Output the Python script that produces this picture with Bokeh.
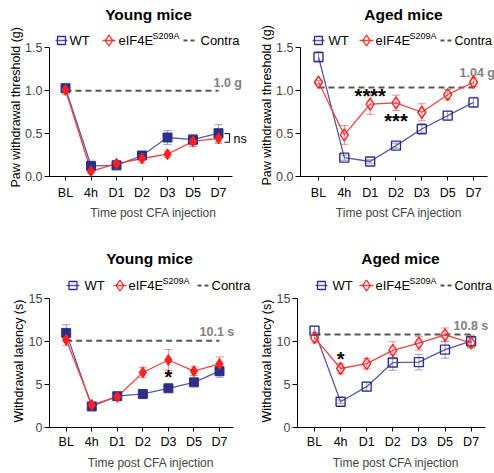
from bokeh.plotting import figure
from bokeh.models import (Range1d, FixedTicker, PrintfTickFormatter, Whisker, TeeHead,
                          ColumnDataSource, Title)
from bokeh.layouts import column, row
from bokeh.embed import file_html
from bokeh.resources import INLINE
from bokeh.core.properties import value

# ---------------- data ----------------
timepoints = ["BL", "4h", "D1", "D2", "D3", "D5", "D7"]
group_labels = ["WT", "eIF4E", "S209A", "Contra"]

young_mech_wt = [1.03, 0.125, 0.13, 0.245, 0.455, 0.43, 0.505]
young_mech_wt_err = [0.05, 0.03, 0.03, 0.04, 0.08, 0.06, 0.10]
young_mech_ki = [1.01, 0.06, 0.15, 0.21, 0.26, 0.41, 0.445]
young_mech_ki_err = [0.05, 0.02, 0.03, 0.05, 0.04, 0.06, 0.06]
young_mech_contra = 1.0

aged_mech_wt = [1.395, 0.22, 0.175, 0.36, 0.555, 0.71, 0.865]
aged_mech_wt_err = [0.06, 0.03, 0.02, 0.03, 0.06, 0.05, 0.06]
aged_mech_ki = [1.10, 0.485, 0.845, 0.86, 0.75, 0.955, 1.10]
aged_mech_ki_err = [0.02, 0.11, 0.12, 0.09, 0.10, 0.06, 0.05]
aged_mech_contra = 1.04

young_heat_wt = [11.0, 2.45, 3.64, 3.9, 4.56, 5.25, 6.55]
young_heat_wt_err = [0.95, 0.3, 0.3, 0.3, 0.4, 0.3, 0.7]
young_heat_ki = [10.2, 2.64, 3.56, 6.4, 7.85, 6.55, 7.4]
young_heat_ki_err = [0.65, 0.2, 0.3, 0.6, 1.2, 0.5, 0.8]
young_heat_contra = 10.1

aged_heat_wt = [11.26, 3.0, 4.75, 7.55, 7.6, 9.05, 10.03]
aged_heat_wt_err = [0.5, 0.2, 0.5, 0.9, 0.9, 1.0, 0.7]
aged_heat_ki = [10.46, 6.86, 7.43, 8.97, 9.8, 10.77, 9.85]
aged_heat_ki_err = [0.6, 0.6, 0.6, 1.0, 0.8, 0.8, 0.6]
aged_heat_contra = 10.8

# significance marks: (timepoint, stars, height)
aged_mech_sig = [("D1", "****", 0.965), ("D2", "***", 0.673)]
young_heat_sig = [("D3", "*", 6.1)]
aged_heat_sig = [("4h", "*", 8.2)]

# ---------------- style ----------------
FONT = "Liberation Sans"
WT_C = "#2e3088"
WT_L = "#5659a8"
KI_C = "#ff2020"
KI_L = "#f24040"
CONTRA_C = "#555555"
LBL_C = "#808080"


def txt(p, x, y, s, size, color="black", bold=False, align="left", baseline="middle", yoff=0):
    p.text(x=[x], y=[y], text=[s], text_font=value(FONT), text_font_size=value(size),
           text_color=color, text_font_style="bold" if bold else "normal",
           text_align=align, text_baseline=baseline, y_offset=yoff)


def make_panel(g):
    n = len(timepoints)
    xs = list(range(n))
    X = lambda px: (px - g["bl"]) / g["sp"]
    Y = lambda py: (g["zero"] - py) / g["unit"]
    x0, x1 = X(g["axis"]), X(g["right"])
    y1 = Y(g["top"])
    p = figure(frame_width=g["right"] - g["axis"], frame_height=g["zero"] - g["top"],
               x_range=Range1d(x0, x1), y_range=Range1d(0, y1),
               output_backend="svg", toolbar_location=None, title=None,
               min_border=0, min_border_left=g["axis"] - g["left"],
               min_border_bottom=g["bottom"] - g["zero"])
    p.xgrid.visible = False
    p.ygrid.visible = False
    p.outline_line_color = None
    p.background_fill_color = "white"

    xa = p.xaxis[0]
    xa.ticker = FixedTicker(ticks=xs)
    xa.major_label_overrides = {i: t for i, t in enumerate(timepoints)}
    xa.bounds = (x0, n - 1 + 0.55)
    xa.minor_tick_line_color = None
    xa.major_tick_in = 0
    xa.major_tick_out = 4
    xa.major_label_standoff = g["xls"]
    xa.major_label_text_font = FONT
    xa.major_label_text_font_size = "12.5px"
    xa.major_label_text_color = "black"
    xa.axis_label = "Time post CFA injection"
    xa.axis_label_standoff = g["xas"]
    xa.axis_label_text_font = FONT
    xa.axis_label_text_font_size = "12px"
    xa.axis_label_text_font_style = "normal"
    xa.axis_line_color = "black"

    ya = p.yaxis[0]
    ya.ticker = FixedTicker(ticks=g["yticks"])
    ya.bounds = (0, g["yticks"][-1])
    ya.formatter = PrintfTickFormatter(format=g["fmt"])
    ya.minor_tick_line_color = None
    ya.major_tick_in = 0
    ya.major_tick_out = 5
    ya.major_label_standoff = 2
    ya.major_label_text_font = FONT
    ya.major_label_text_font_size = "12.5px"
    ya.axis_line_color = "black"

    # y axis title, placed along the drawn axis (starts near the bottom of the axis)
    p.add_layout(Title(text=g["ylabel"], align="left", offset=g["ylab_off"], standoff=0,
                       text_font=FONT, text_font_size="12.5px", text_font_style="normal",
                       text_color="black"), "left")

    # contra line
    p.line([xs[0], xs[-1]], [g["contra"], g["contra"]], line_color=CONTRA_C, line_width=2,
           line_dash="6 4")
    txt(p, X(g["clab"][0]), Y(g["clab"][1]), g["clabtext"], "12.5px", color=LBL_C, bold=True)

    # error bars
    for vals, errs, col in ((g["wt"], g["wte"], WT_L), (g["ki"], g["kie"], KI_L)):
        src = ColumnDataSource(dict(x=xs, up=[v + e for v, e in zip(vals, errs)],
                                    lo=[v - e for v, e in zip(vals, errs)]))
        p.add_layout(Whisker(source=src, base="x", upper="up", lower="lo", line_color=col,
                             line_alpha=0.6, line_width=1,
                             upper_head=TeeHead(size=8, line_color=col, line_alpha=0.6, line_width=1),
                             lower_head=TeeHead(size=8, line_color=col, line_alpha=0.6, line_width=1)))

    p.line(xs, g["wt"], line_color=WT_L, line_width=1.3)
    p.line(xs, g["ki"], line_color=KI_L, line_width=1.3)
    if g["filled"]:
        p.scatter(xs, g["wt"], marker="square", size=9, fill_color=WT_C, line_color=WT_C)
        p.scatter(xs, g["ki"], marker="diamond", size=11, fill_color=KI_C, line_color=KI_C)
    else:
        p.scatter(xs, g["wt"], marker="square", size=9, fill_color=None, line_color=WT_C,
                  line_width=1.4)
        p.scatter(xs, g["ki"], marker="diamond", size=12, fill_color=None, line_color=KI_C,
                  line_width=1.4)

    for tp, s, h in g["sig"]:
        txt(p, timepoints.index(tp), h, s, "20px", bold=True,
            align="center", baseline="middle", yoff=2)

    # title
    txt(p, X(g["title_x"]), Y(g["title_y"]), g["title"], "15.5px", bold=True, align="center")

    # legend
    lg = g["lg"]
    ly = Y(lg["y"])
    a, b = lg["wt_icon"]
    p.line([X(a), X(b)], [ly, ly], line_color=WT_L, line_width=1.3)
    p.scatter([X((a + b) / 2)], [ly], marker="square", size=8, fill_color=None, line_color=WT_C,
              line_width=1.3)
    txt(p, X(lg["wt_text"]), ly, group_labels[0], "13px")
    a, b = lg["ki_icon"]
    p.line([X(a), X(b)], [ly, ly], line_color=KI_L, line_width=1.3)
    p.scatter([X((a + b) / 2)], [ly], marker="diamond", size=11, fill_color=None, line_color=KI_C,
              line_width=1.3)
    txt(p, X(lg["ki_text"]), ly, group_labels[1], "13px")
    txt(p, X(lg["ki_text"] + 34), Y(lg["y"] - 5), group_labels[2], "9px")
    a, b = lg["dash"]
    p.line([X(a), X(b)], [ly, ly], line_color=CONTRA_C, line_width=2, line_dash="4 3")
    txt(p, X(lg["contra_text"]), ly, group_labels[3], lg.get("cfs", "13px"))
    return p, X, Y


common_top = dict(top=0, zero=176, unit=85.67, bottom=236, yticks=[0, 0.5, 1.0, 1.5], fmt="%.1f",
                  ylabel="Paw withdrawal threshold (g)", xls=5, xas=3, title_y=14)
common_bot = dict(top=236, zero=427, unit=8.6, bottom=473, yticks=[0, 5, 10, 15], fmt="%d",
                  ylabel="Withdrawal latency (s)", xls=3, xas=4, title_y=258)

g1 = dict(common_top, left=0, axis=49, bl=65, sp=25.5, right=257, title="Young mice", title_x=148,
          wt=young_mech_wt, wte=young_mech_wt_err, ki=young_mech_ki, kie=young_mech_ki_err,
          contra=young_mech_contra, clabtext="1.0 g", clab=(213, 82), filled=True, sig=[],
          ylab_off=-11,
          lg=dict(y=40, wt_icon=(55, 67), wt_text=69, ki_icon=(102, 115), ki_text=118,
                  dash=(183, 197), contra_text=200))
g2 = dict(common_top, left=257, axis=297, bl=315, sp=25.83, right=494, title="Aged mice", title_x=400,
          wt=aged_mech_wt, wte=aged_mech_wt_err, ki=aged_mech_ki, kie=aged_mech_ki_err,
          contra=aged_mech_contra, clabtext="1.04 g", clab=(456, 72), filled=False, sig=aged_mech_sig,
          ylab_off=-9,
          lg=dict(y=40, wt_icon=(309, 321), wt_text=325, ki_icon=(356, 370), ki_text=372,
                  dash=(437, 448), contra_text=451, cfs="12.5px"))
g3 = dict(common_bot, left=0, axis=49, bl=65.7, sp=25.55, right=252, title="Young mice", title_x=149,
          wt=young_heat_wt, wte=young_heat_wt_err, ki=young_heat_ki, kie=young_heat_ki_err,
          contra=young_heat_contra, clabtext="10.1 s", clab=(199, 331), filled=True, sig=young_heat_sig,
          ylab_off=5,
          lg=dict(y=285, wt_icon=(66, 79), wt_text=84, ki_icon=(113, 126), ki_text=128,
                  dash=(197, 209), contra_text=211))
g4 = dict(common_bot, left=252, axis=297, bl=314, sp=26.1, right=494, title="Aged mice", title_x=400,
          wt=aged_heat_wt, wte=aged_heat_wt_err, ki=aged_heat_ki, kie=aged_heat_ki_err,
          contra=aged_heat_contra, clabtext="10.8 s", clab=(453, 325), filled=False, sig=aged_heat_sig,
          ylab_off=5,
          lg=dict(y=285, wt_icon=(315, 327), wt_text=332, ki_icon=(359, 373), ki_text=375,
                  dash=(440, 451), contra_text=454, cfs="12.5px"))

p1, X1, Y1 = make_panel(g1)
p2, _, _ = make_panel(g2)
p3, _, _ = make_panel(g3)
p4, _, _ = make_panel(g4)

# "ns" bracket on the young mechanical panel
p1.line([X1(224), X1(229), X1(229), X1(224)], [0.50, 0.50, 0.40, 0.40], line_color="black",
        line_width=1)
txt(p1, X1(233), 0.44, "ns", "12.5px")

layout = column(row(p1, p2), row(p3, p4))
open("out.html", "w").write(file_html(layout, INLINE))
